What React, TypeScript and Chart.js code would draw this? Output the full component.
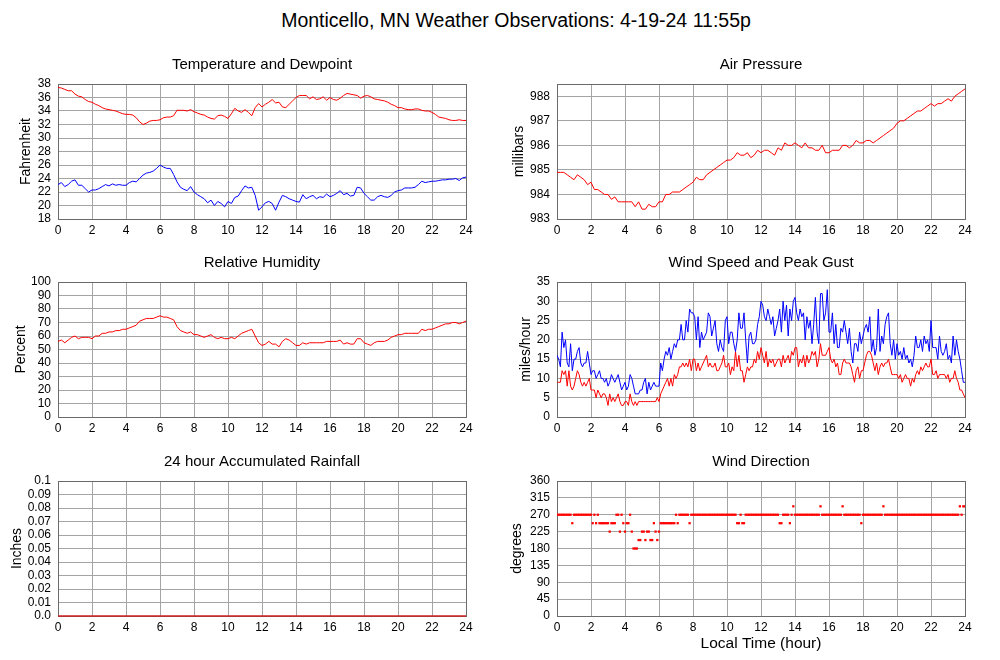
import React, { useEffect, useRef } from 'react';
import { Chart, registerables } from 'chart.js';

Chart.register(...registerables);

const FONT = '"Liberation Sans", Arial, Helvetica, sans-serif';
Chart.defaults.font.family = FONT;
Chart.defaults.color = '#000';

const GRID = '#a4a4a4';
const FRAME = '#6a6a6a';
const RED = '#ff0000';
const BLUE = '#0000ff';

const MAIN_TITLE = 'Monticello, MN Weather Observations: 4-19-24 11:55p';
const X_TITLE = 'Local Time (hour)';

// Hours (local time) for the 12-minute series
const HOURS_02 = [
  0, 0.2, 0.4, 0.6, 0.8, 1, 1.2, 1.4, 1.6, 1.8,
  2, 2.2, 2.4, 2.6, 2.8, 3, 3.2, 3.4, 3.6, 3.8,
  4, 4.2, 4.4, 4.6, 4.8, 5, 5.2, 5.4, 5.6, 5.8,
  6, 6.2, 6.4, 6.6, 6.8, 7, 7.2, 7.4, 7.6, 7.8,
  8, 8.2, 8.4, 8.6, 8.8, 9, 9.2, 9.4, 9.6, 9.8,
  10, 10.2, 10.4, 10.6, 10.8, 11, 11.2, 11.4, 11.6, 11.8,
  12, 12.2, 12.4, 12.6, 12.8, 13, 13.2, 13.4, 13.6, 13.8,
  14, 14.2, 14.4, 14.6, 14.8, 15, 15.2, 15.4, 15.6, 15.8,
  16, 16.2, 16.4, 16.6, 16.8, 17, 17.2, 17.4, 17.6, 17.8,
  18, 18.2, 18.4, 18.6, 18.8, 19, 19.2, 19.4, 19.6, 19.8,
  20, 20.2, 20.4, 20.6, 20.8, 21, 21.2, 21.4, 21.6, 21.8,
  22, 22.2, 22.4, 22.6, 22.8, 23, 23.2, 23.4, 23.6, 23.8,
  24,
];

// Hours (local time) for the 6-minute wind series
const HOURS_01 = [
  0, 0.1, 0.2, 0.3, 0.4, 0.5, 0.6, 0.7, 0.8, 0.9,
  1, 1.1, 1.2, 1.3, 1.4, 1.5, 1.6, 1.7, 1.8, 1.9,
  2, 2.1, 2.2, 2.3, 2.4, 2.5, 2.6, 2.7, 2.8, 2.9,
  3, 3.1, 3.2, 3.3, 3.4, 3.5, 3.6, 3.7, 3.8, 3.9,
  4, 4.1, 4.2, 4.3, 4.4, 4.5, 4.6, 4.7, 4.8, 4.9,
  5, 5.1, 5.2, 5.3, 5.4, 5.5, 5.6, 5.7, 5.8, 5.9,
  6, 6.1, 6.2, 6.3, 6.4, 6.5, 6.6, 6.7, 6.8, 6.9,
  7, 7.1, 7.2, 7.3, 7.4, 7.5, 7.6, 7.7, 7.8, 7.9,
  8, 8.1, 8.2, 8.3, 8.4, 8.5, 8.6, 8.7, 8.8, 8.9,
  9, 9.1, 9.2, 9.3, 9.4, 9.5, 9.6, 9.7, 9.8, 9.9,
  10, 10.1, 10.2, 10.3, 10.4, 10.5, 10.6, 10.7, 10.8, 10.9,
  11, 11.1, 11.2, 11.3, 11.4, 11.5, 11.6, 11.7, 11.8, 11.9,
  12, 12.1, 12.2, 12.3, 12.4, 12.5, 12.6, 12.7, 12.8, 12.9,
  13, 13.1, 13.2, 13.3, 13.4, 13.5, 13.6, 13.7, 13.8, 13.9,
  14, 14.1, 14.2, 14.3, 14.4, 14.5, 14.6, 14.7, 14.8, 14.9,
  15, 15.1, 15.2, 15.3, 15.4, 15.5, 15.6, 15.7, 15.8, 15.9,
  16, 16.1, 16.2, 16.3, 16.4, 16.5, 16.6, 16.7, 16.8, 16.9,
  17, 17.1, 17.2, 17.3, 17.4, 17.5, 17.6, 17.7, 17.8, 17.9,
  18, 18.1, 18.2, 18.3, 18.4, 18.5, 18.6, 18.7, 18.8, 18.9,
  19, 19.1, 19.2, 19.3, 19.4, 19.5, 19.6, 19.7, 19.8, 19.9,
  20, 20.1, 20.2, 20.3, 20.4, 20.5, 20.6, 20.7, 20.8, 20.9,
  21, 21.1, 21.2, 21.3, 21.4, 21.5, 21.6, 21.7, 21.8, 21.9,
  22, 22.1, 22.2, 22.3, 22.4, 22.5, 22.6, 22.7, 22.8, 22.9,
  23, 23.1, 23.2, 23.3, 23.4, 23.5, 23.6, 23.7, 23.8, 23.9,
  24,
];

const TEMPERATURE = [
  37.5, 37.4, 37.2, 37.0, 37.0, 36.5, 36.2, 36.1, 35.7, 35.4,
  35.3, 35.0, 34.8, 34.5, 34.3, 34.2, 34.1, 34.0, 33.8, 33.6,
  33.5, 33.5, 33.4, 33.0, 32.4, 32.0, 32.2, 32.5, 32.6, 32.6,
  32.7, 33.0, 33.1, 33.1, 33.3, 34.1, 34.1, 34.1, 34.0, 34.2,
  33.9, 33.7, 33.5, 33.4, 33.1, 32.9, 32.8, 33.3, 33.4, 33.2,
  32.9, 33.6, 34.4, 34.0, 33.8, 34.2, 33.8, 33.3, 34.5, 35.1,
  34.6, 35.0, 35.3, 35.7, 35.2, 35.3, 34.6, 34.5, 35.0, 35.5,
  36.0, 36.3, 36.3, 36.3, 35.8, 36.1, 35.7, 35.8, 36.1, 35.6,
  36.0, 35.7, 35.6, 35.9, 36.3, 36.6, 36.5, 36.4, 36.3, 35.9,
  36.2, 36.3, 36.1, 35.8, 35.7, 35.6, 35.5, 35.3, 35.0, 34.8,
  34.5, 34.5, 34.3, 34.2, 34.2, 34.3, 34.3, 34.1, 34.0, 34.0,
  33.8, 33.5, 33.1, 33.0, 32.9, 32.7, 32.6, 32.6, 32.7, 32.6,
  32.6,
];

const DEWPOINT = [
  23.1, 23.4, 22.8, 23.1, 23.6, 23.8, 23.0, 23.0, 22.5, 22.0,
  22.3, 22.3, 22.5, 22.8, 23.1, 22.9, 23.2, 23.0, 23.1, 23.0,
  23.0, 23.4, 23.6, 23.5, 24.0, 24.5, 24.8, 24.9, 25.1, 25.5,
  26.0, 25.7, 25.5, 25.5, 24.6, 23.5, 22.7, 22.4, 22.2, 22.8,
  22.0, 21.6, 21.3, 21.0, 20.4, 20.8, 20.0, 20.6, 20.3, 19.8,
  20.6, 20.3, 21.2, 21.4, 22.2, 22.9, 22.6, 22.7, 21.5, 19.3,
  19.8, 20.4, 20.6, 20.3, 19.3, 20.5, 21.5, 21.3, 21.0, 20.8,
  20.6, 20.5, 21.6, 21.0, 21.3, 21.5, 21.0, 21.3, 21.2, 21.7,
  21.3, 21.5, 21.8, 22.2, 21.6, 21.8, 21.4, 21.5, 22.7, 22.6,
  21.8, 21.3, 20.8, 20.8, 21.3, 21.5, 21.3, 21.2, 21.5, 22.0,
  22.2, 22.3, 22.6, 22.6, 22.6, 22.7, 23.1, 23.6, 23.4, 23.5,
  23.6, 23.6, 23.7, 23.8, 23.8, 23.9, 23.9, 24.0, 23.7, 24.1,
  24.2,
];

const PRESSURE = [
  984.9, 984.9, 984.9, 984.8, 984.7, 984.6, 984.8, 984.7, 984.6, 984.4,
  984.5, 984.2, 984.2, 984.1, 984.0, 984.0, 983.8, 983.9, 983.7, 983.7,
  983.7, 983.7, 983.7, 983.5, 983.7, 983.4, 983.4, 983.6, 983.5, 983.5,
  983.7, 983.7, 984.0, 984.0, 984.1, 984.1, 984.1, 984.2, 984.3, 984.4,
  984.5, 984.7, 984.6, 984.6, 984.8, 984.9, 985.0, 985.1, 985.2, 985.3,
  985.4, 985.4, 985.5, 985.7, 985.6, 985.6, 985.7, 985.5, 985.6, 985.8,
  985.7, 985.8, 985.8, 985.7, 985.6, 985.9, 985.8, 986.1, 986.0, 986.0,
  986.1, 986.0, 985.9, 986.1, 985.9, 985.9, 985.8, 985.8, 986.0, 985.7,
  985.7, 985.8, 985.8, 985.8, 986.0, 986.0, 985.9, 986.0, 986.2, 986.1,
  986.1, 986.2, 986.2, 986.1, 986.2, 986.3, 986.4, 986.5, 986.6, 986.7,
  986.9, 987.0, 987.0, 987.1, 987.2, 987.3, 987.4, 987.4, 987.5, 987.6,
  987.7, 987.6, 987.7, 987.7, 987.8, 987.9, 987.8, 988.0, 988.1, 988.2,
  988.3,
];

const HUMIDITY = [
  56, 57, 55, 57, 59, 60, 58, 59, 59, 59,
  58, 60, 60, 62, 62, 63, 63, 64, 64, 65,
  65, 66, 67, 68, 71, 72, 73, 73, 73, 74,
  75, 74, 74, 73, 72, 67, 64, 63, 62, 63,
  61, 61, 60, 59, 60, 61, 59, 58, 59, 58,
  58, 59, 58, 60, 62, 63, 64, 65, 60, 55,
  53, 54, 56, 54, 54, 52, 56, 58, 57, 55,
  53, 53, 55, 54, 55, 55, 55, 55, 55, 56,
  56, 56, 56, 57, 54, 55, 54, 54, 58, 58,
  55, 54, 53, 55, 56, 56, 56, 57, 59, 60,
  61, 61, 62, 62, 62, 62, 62, 65, 64, 65,
  65, 66, 67, 68, 69, 69, 70, 70, 69, 70,
  71,
];

const WIND_SPEED = [
  9, 9, 9, 12, 11, 12, 8, 12, 8, 7,
  8, 10, 12, 11, 9, 8, 9, 8, 9, 10,
  7, 7, 7, 5, 7, 6, 5, 6, 6, 5,
  3, 6, 4, 5, 4, 5, 6, 4, 3, 3,
  4, 4, 3, 6, 4, 3, 4, 3, 4, 4,
  4, 4, 4, 4, 4, 4, 4, 4, 4, 5,
  4, 6, 7, 8, 9, 10, 8, 10, 8, 11,
  10, 11, 13, 13, 14, 13, 14, 13, 15, 12,
  15, 15, 12, 14, 12, 13, 14, 15, 16, 13,
  14, 13, 13, 14, 12, 12, 13, 14, 16, 13,
  13, 14, 11, 13, 12, 17, 13, 16, 12, 12,
  9, 11, 13, 12, 13, 13, 15, 14, 17, 15,
  18, 16, 14, 17, 13, 15, 14, 15, 13, 14,
  15, 15, 13, 16, 14, 15, 16, 14, 17, 16,
  18, 18, 13, 15, 14, 16, 13, 16, 14, 15,
  17, 16, 17, 13, 15, 19, 16, 16, 16, 17,
  18, 15, 14, 15, 13, 14, 11, 11, 14, 15,
  14, 14, 14, 13, 11, 9, 12, 13, 10, 12,
  12, 14, 16, 17, 17, 16, 14, 12, 14, 11,
  13, 14, 13, 14, 14, 15, 13, 11, 11, 11,
  11, 10, 11, 9, 10, 11, 10, 10, 8, 10,
  9, 11, 12, 11, 13, 12, 13, 14, 13, 13,
  15, 11, 11, 12, 10, 11, 11, 11, 11, 10,
  11, 9, 10, 10, 12, 10, 9, 7, 7, 6,
  5,
];

const WIND_GUST = [
  16, 15, 13, 22, 18, 20, 14, 13, 19, 12,
  15, 15, 17, 18, 14, 13, 14, 14, 17, 14,
  11, 12, 12, 10, 11, 12, 10, 10, 9, 10,
  8, 9, 11, 10, 9, 10, 11, 9, 7, 8,
  9, 7, 8, 11, 10, 8, 6, 6, 6, 7,
  7, 9, 10, 6, 9, 7, 8, 9, 8, 8,
  8, 14, 12, 15, 17, 16, 18, 15, 17, 19,
  18, 20, 20, 24, 20, 20, 25, 22, 28, 27,
  27, 26, 20, 26, 18, 22, 20, 21, 22, 27,
  26, 21, 23, 25, 19, 17, 20, 18, 17, 25,
  26, 19, 22, 22, 19, 17, 20, 27, 23, 23,
  27, 20, 14, 21, 22, 19, 19, 20, 24, 26,
  30, 29, 26, 25, 28, 26, 24, 26, 21, 23,
  25, 28, 22, 30, 25, 29, 21, 28, 25, 30,
  31, 27, 25, 28, 26, 27, 20, 26, 23, 25,
  19, 24, 31, 22, 19, 32, 32, 25, 27, 33,
  22, 22, 27, 19, 24, 18, 18, 23, 22, 25,
  22, 19, 23, 17, 14, 19, 19, 17, 22, 19,
  21, 23, 24, 22, 26, 17, 20, 16, 18, 28,
  17, 21, 19, 24, 26, 27, 19, 16, 20, 15,
  19, 16, 17, 15, 18, 15, 16, 14, 15, 13,
  16, 21, 18, 18, 20, 17, 21, 19, 20, 17,
  25, 18, 18, 18, 15, 21, 17, 16, 17, 19,
  15, 16, 14, 21, 16, 20, 17, 15, 12, 9,
  9,
];

const WIND_DIRECTION = [
  270, 270, 270, 270, 270, 270, 270, 270, 270, 247.5,
  270, 270, 270, 270, 270, 270, 270, 270, 270, 270,
  270, 247.5, 270, 247.5, 270, 247.5, 247.5, 247.5, 247.5, 247.5,
  247.5, 225, 247.5, 247.5, 247.5, 270, 270, 225, 270, 247.5,
  225, 247.5, 247.5, 270, 225, 180, 180, 180, 202.5, 202.5,
  225, 225, 202.5, 225, 225, 202.5, 202.5, 247.5, 225, 202.5,
  225, 247.5, 247.5, 247.5, 247.5, 247.5, 247.5, 247.5, 247.5, 247.5,
  270, 247.5, 270, 270, 270, 270, 270, 270, 247.5, 270,
  270, 270, 270, 270, 270, 270, 270, 270, 270, 270,
  270, 270, 270, 270, 270, 270, 270, 270, 270, 270,
  270, 270, 270, 270, 270, 270, 247.5, 247.5, 270, 247.5,
  247.5, 270, 270, 270, 270, 270, 270, 270, 270, 270,
  270, 270, 270, 270, 270, 270, 270, 270, 270, 270,
  270, 247.5, 247.5, 270, 270, 270, 270, 247.5, 270, 292.5,
  270, 270, 270, 270, 270, 270, 270, 270, 270, 270,
  270, 270, 270, 270, 270, 292.5, 270, 270, 270, 270,
  270, 270, 270, 270, 270, 270, 270, 270, 292.5, 270,
  270, 270, 270, 270, 270, 270, 270, 270, 270, 247.5,
  270, 270, 270, 270, 270, 270, 270, 270, 270, 270,
  270, 270, 292.5, 270, 270, 270, 270, 270, 270, 270,
  270, 270, 270, 270, 270, 270, 270, 270, 270, 270,
  270, 270, 270, 270, 270, 270, 270, 270, 270, 270,
  270, 270, 270, 270, 270, 270, 270, 270, 270, 270,
  270, 270, 270, 270, 270, 270, 270, 292.5, 270, 292.5,
  292.5,
];

const RAIN_HOURS = [0, 24];
const RAIN = [0, 0];

const toPoints = (xs: number[], ys: number[]) => xs.map((x, i) => ({ x, y: ys[i] }));

const lineSet = (xs: number[], ys: number[], color: string, extra: any = {}) => ({
  data: toPoints(xs, ys),
  borderColor: color,
  backgroundColor: color,
  borderWidth: 1,
  pointRadius: 0,
  fill: false,
  tension: 0,
  ...extra,
});

interface PanelCfg {
  key: string;
  left: number;
  top: number;
  height: number;
  yWidth: number;
  padRight: number;
  title: string;
  yTitle: string;
  yTitlePad: number;
  yMin: number;
  yMax: number;
  yStep: number;
  yFormat?: (v: number) => string;
  xTitle?: string;
  xHeight: number;
  datasets: any[];
}

const framePlugin = {
  id: 'frameBox',
  beforeDatasetsDraw(chart: any) {
    const { ctx, chartArea: a } = chart;
    ctx.save();
    ctx.strokeStyle = FRAME;
    ctx.lineWidth = 1;
    const l = Math.round(a.left) + 0.5;
    const t = Math.round(a.top) + 0.5;
    const r = Math.round(a.right) + 0.5;
    const b = Math.round(a.bottom) + 0.5;
    ctx.strokeRect(l, t, r - l, b - t);
    ctx.restore();
  },
};

function buildConfig(p: PanelCfg): any {
  return {
    type: 'line',
    data: { datasets: p.datasets },
    options: {
      animation: false,
      responsive: false,
      events: [],
      layout: { padding: { left: 0, right: p.padRight, top: 0, bottom: 0 } },
      plugins: {
        legend: { display: false },
        tooltip: { enabled: false },
        title: {
          display: true,
          text: p.title,
          fullSize: false,
          color: '#000',
          font: { size: 15, weight: 'normal', family: FONT },
          padding: { top: 6, bottom: 10 },
        },
      },
      scales: {
        x: {
          type: 'linear',
          min: 0,
          max: 24,
          bounds: 'data',
          ticks: { stepSize: 2, padding: 4, color: '#000', font: { size: 12 }, maxRotation: 0, autoSkip: false },
          grid: { color: GRID, lineWidth: 1, drawTicks: false },
          border: { display: false },
          title: p.xTitle
            ? { display: true, text: p.xTitle, color: '#000', font: { size: 15.5 }, padding: { top: 0, bottom: 3 } }
            : { display: false },
          afterFit: (s: any) => {
            s.height = p.xHeight;
          },
        },
        y: {
          type: 'linear',
          min: p.yMin,
          max: p.yMax,
          bounds: 'data',
          ticks: {
            stepSize: p.yStep,
            includeBounds: false,
            padding: 7,
            color: '#000',
            font: { size: 12 },
            autoSkip: false,
            callback: (v: number) => (p.yFormat ? p.yFormat(v) : String(v)),
          },
          grid: { color: GRID, lineWidth: 1, drawTicks: false },
          border: { display: false },
          title: {
            display: true,
            text: p.yTitle,
            color: '#000',
            font: { size: 14 },
            padding: { top: p.yTitlePad, bottom: 0 },
          },
          afterFit: (s: any) => {
            s.width = p.yWidth;
          },
        },
      },
    },
    plugins: [framePlugin],
  };
}

const PANELS: PanelCfg[] = [
  {
    key: 'temp', left: 0, top: 50, height: 189, yWidth: 58, padRight: 14,
    title: 'Temperature and Dewpoint', yTitle: 'Fahrenheit', yTitlePad: 17.6,
    yMin: 18, yMax: 38, yStep: 2, xHeight: 20,
    datasets: [lineSet(HOURS_02, TEMPERATURE, RED), lineSet(HOURS_02, DEWPOINT, BLUE)],
  },
  {
    key: 'press', left: 500, top: 50, height: 189, yWidth: 57, padRight: 15,
    title: 'Air Pressure', yTitle: 'millibars', yTitlePad: 10.6,
    yMin: 983, yMax: 988.5, yStep: 1, xHeight: 20,
    datasets: [lineSet(HOURS_02, PRESSURE, RED)],
  },
  {
    key: 'rh', left: 0, top: 248, height: 189, yWidth: 58, padRight: 14,
    title: 'Relative Humidity', yTitle: 'Percent', yTitlePad: 12.6,
    yMin: 0, yMax: 100, yStep: 10, xHeight: 20,
    datasets: [lineSet(HOURS_02, HUMIDITY, RED)],
  },
  {
    key: 'wind', left: 500, top: 248, height: 189, yWidth: 57, padRight: 15,
    title: 'Wind Speed and Peak Gust', yTitle: 'miles/hour', yTitlePad: 17.6,
    yMin: 0, yMax: 35, yStep: 5, xHeight: 20,
    datasets: [lineSet(HOURS_01, WIND_GUST, BLUE), lineSet(HOURS_01, WIND_SPEED, RED)],
  },
  {
    key: 'rain', left: 0, top: 447, height: 189, yWidth: 58, padRight: 14,
    title: '24 hour Accumulated Rainfall', yTitle: 'Inches', yTitlePad: 8.6,
    yMin: 0, yMax: 0.1, yStep: 0.01, xHeight: 20,
    yFormat: (v: number) => (v === 0 ? '0.0' : String(Math.round(v * 100) / 100)),
    datasets: [lineSet(RAIN_HOURS, RAIN, '#d02020', { borderWidth: 1.5, clip: 3 })],
  },
  {
    key: 'dir', left: 500, top: 447, height: 209, yWidth: 57, padRight: 15,
    title: 'Wind Direction', yTitle: 'degrees', yTitlePad: 8.6,
    yMin: 0, yMax: 360, yStep: 45, xHeight: 40, xTitle: X_TITLE,
    datasets: [
      {
        data: toPoints(HOURS_01, WIND_DIRECTION),
        showLine: false,
        pointStyle: 'rect',
        pointRadius: 1.6,
        pointBorderWidth: 0,
        borderWidth: 0,
        pointBackgroundColor: RED,
        backgroundColor: RED,
        borderColor: RED,
      },
    ],
  },
];

function Panel({ cfg }: { cfg: PanelCfg }) {
  const ref = useRef<HTMLCanvasElement>(null);
  useEffect(() => {
    if (!ref.current) return;
    const chart = new Chart(ref.current, buildConfig(cfg));
    return () => chart.destroy();
  }, [cfg]);
  return (
    <canvas
      ref={ref}
      width={480}
      height={cfg.height}
      style={{ position: 'absolute', left: cfg.left, top: cfg.top, width: 480, height: cfg.height }}
    />
  );
}

export default function App() {
  return (
    <div
      style={{
        position: 'fixed',
        left: 0,
        top: 0,
        width: 1000,
        height: 660,
        background: '#fff',
        overflow: 'hidden',
        fontFamily: FONT,
      }}
    >
      <div
        style={{
          position: 'absolute',
          left: 0,
          top: 8,
          width: 1032,
          textAlign: 'center',
          fontSize: 19.5,
          lineHeight: '24px',
          color: '#000',
        }}
      >
        {MAIN_TITLE}
      </div>
      {PANELS.map((p) => (
        <Panel key={p.key} cfg={p} />
      ))}
    </div>
  );
}
